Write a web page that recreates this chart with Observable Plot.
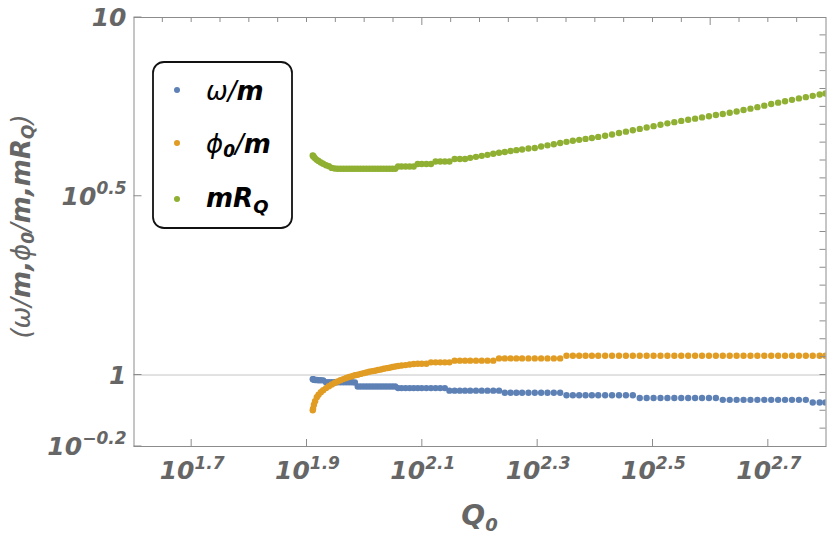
<!DOCTYPE html>
<html><head><meta charset="utf-8">
<script src="https://cdn.jsdelivr.net/npm/d3@7"></script>
<script src="https://cdn.jsdelivr.net/npm/@observablehq/plot@0.6"></script>
<style>
body{margin:0;background:#fff;}
#wrap{width:830px;height:538px;}
</style></head><body><div id="wrap"></div>
<script>
// ---- data ----
const log10Q0 = [
  1.910, 1.9105, 1.912, 1.914, 1.917, 1.920, 1.924, 1.928, 1.933, 1.938,
  1.943, 1.948, 1.953, 1.958, 1.963, 1.968, 1.973, 1.978, 1.983, 1.988, 1.993, 1.998,
  2.003, 2.008, 2.013, 2.018, 2.023, 2.028, 2.033, 2.038, 2.043, 2.048, 2.053, 2.058,
  2.064, 2.071, 2.078, 2.085, 2.092, 2.099, 2.107, 2.115, 2.123, 2.131, 2.139, 2.147, 2.156, 2.165, 2.174,
  2.183, 2.193, 2.203, 2.213, 2.223, 2.233, 2.243, 2.253, 2.263, 2.273, 2.284,
  2.295, 2.306, 2.317, 2.328, 2.339, 2.350, 2.361, 2.372, 2.383, 2.394, 2.405,
  2.417, 2.429, 2.441, 2.453, 2.465, 2.477, 2.489, 2.501, 2.513, 2.525, 2.537,
  2.549, 2.561, 2.573, 2.585, 2.597, 2.609, 2.621, 2.633, 2.645, 2.657, 2.669,
  2.681, 2.693, 2.705, 2.717, 2.729, 2.741, 2.753, 2.765, 2.777, 2.789, 2.799
];
const omegaOverM = [
  0.974, 0.973, 0.970, 0.968, 0.968, 0.967, 0.967, 0.966, 0.954, 0.954,
  0.954, 0.954, 0.954, 0.954, 0.954, 0.954, 0.954, 0.954, 0.953,
  0.929, 0.929, 0.929, 0.929, 0.929, 0.929, 0.929, 0.929, 0.929, 0.929, 0.929, 0.929, 0.929, 0.929,
  0.919,
  0.919, 0.919, 0.919, 0.919, 0.919, 0.919, 0.919, 0.919, 0.919, 0.919, 0.919,
  0.904, 0.904, 0.904, 0.904,
  0.904, 0.904, 0.904, 0.904, 0.904, 0.904,
  0.892, 0.892, 0.892, 0.892, 0.892, 0.892, 0.892, 0.892, 0.892, 0.892,
  0.878, 0.878, 0.878, 0.878, 0.878, 0.878,
  0.878, 0.878, 0.878, 0.878, 0.878,
  0.862, 0.862, 0.862, 0.862, 0.862, 0.862, 0.862, 0.862, 0.862, 0.862, 0.862, 0.862,
  0.852, 0.852, 0.852, 0.852, 0.852, 0.852, 0.852, 0.852, 0.852, 0.852, 0.852, 0.852, 0.852,
  0.838, 0.838, 0.838
];
const phi0OverM = [
  0.797, 0.805, 0.826, 0.845, 0.867, 0.881, 0.895, 0.907, 0.919, 0.930,
  0.941, 0.950, 0.959, 0.967, 0.974, 0.981, 0.987, 0.992, 0.998, 1.002, 1.007, 1.012,
  1.016, 1.021, 1.025, 1.028, 1.033, 1.036, 1.041, 1.045, 1.048, 1.053, 1.056, 1.060,
  1.063, 1.066, 1.070, 1.073, 1.075, 1.075, 1.075, 1.085, 1.085, 1.085, 1.085, 1.085, 1.097, 1.097, 1.097,
  1.097, 1.097, 1.097, 1.097, 1.097, 1.113, 1.113, 1.113, 1.113, 1.113, 1.113,
  1.113, 1.113, 1.113, 1.113, 1.113, 1.132, 1.132, 1.132, 1.132, 1.132, 1.132,
  1.132, 1.132, 1.132, 1.132, 1.132, 1.132, 1.132, 1.132, 1.132, 1.132, 1.132,
  1.132, 1.132, 1.132, 1.132, 1.132, 1.132, 1.132, 1.132, 1.132, 1.132, 1.132,
  1.132, 1.132, 1.132, 1.132, 1.132, 1.132, 1.132, 1.132, 1.132, 1.132, 1.132
];
const mRQ = [
  4.111, 4.098, 4.072, 4.037, 3.998, 3.968, 3.930, 3.897, 3.862, 3.835,
  3.796, 3.781, 3.774, 3.774, 3.774, 3.774, 3.774, 3.774, 3.774, 3.774, 3.774, 3.774,
  3.774, 3.774, 3.774, 3.774, 3.774, 3.774, 3.774, 3.774, 3.774, 3.774, 3.774, 3.830,
  3.830, 3.830, 3.830, 3.830, 3.891, 3.891, 3.891, 3.891, 3.955, 3.955, 3.955, 3.955, 4.019, 4.019, 4.019,
  4.050, 4.076, 4.102, 4.129, 4.156, 4.183, 4.205, 4.232, 4.256, 4.275, 4.301,
  4.314, 4.356, 4.389, 4.420, 4.455, 4.489, 4.519, 4.548, 4.575, 4.604, 4.634,
  4.667, 4.709, 4.751, 4.794, 4.838, 4.879, 4.923, 4.967, 5.012, 5.058, 5.097,
  5.137, 5.174, 5.213, 5.254, 5.294, 5.335, 5.373, 5.414, 5.457, 5.510, 5.559,
  5.613, 5.668, 5.728, 5.779, 5.831, 5.884, 5.938, 5.987, 6.037, 6.089, 6.131
];
const seriesNames = ["omega", "phi0", "mRQ"];
const seriesColors = ["#5E81B5", "#E19C24", "#8FB032"];

// ticks (log10 exponents)
const xTickExp = [1.7, 1.9, 2.1, 2.3, 2.5, 2.7];
const xTickSup = ["1.7", "1.9", "2.1", "2.3", "2.5", "2.7"];
const xTopTickExp = [1.65, 1.7, 1.75, 1.8, 1.85, 1.9, 1.95, 2.0, 2.05, 2.1, 2.15, 2.2, 2.25, 2.3, 2.35, 2.4, 2.45, 2.5, 2.55, 2.6, 2.65, 2.7, 2.75];
const xTopLongExp = [2.1, 2.6];
const yTickExp = [-0.2, 0, 0.5, 1];
const yTickBase = ["10", "1", "10", "10"];
const yTickSup = ["\u22120.2", "", "0.5", ""];
const yRightTickExp = [-0.15, -0.1, -0.05, 0, 0.05, 0.1, 0.15, 0.2, 0.25, 0.3, 0.35, 0.4, 0.45, 0.5, 0.55, 0.6, 0.65, 0.7, 0.75, 0.8, 0.85, 0.9, 0.95];

const FRAME = "#8c8c8c";
const TEXT = "#666666";
const FONT = "'DejaVu Sans', sans-serif";

const rows = log10Q0.map((e, i) => ({Q0: 10 ** e, omega: omegaOverM[i], phi0: phi0OverM[i], mRQ: mRQ[i]}));

function decor(index, {x, y}, values, dims) {
  const L = dims.marginLeft, R = dims.width - dims.marginRight;
  const T = dims.marginTop, B = dims.height - dims.marginBottom;
  const g = d3.create("svg:g");
  const tk = g.append("g").attr("stroke", FRAME).attr("stroke-width", 1);
  const line = (x1, y1, x2, y2) => tk.append("line").attr("x1", x1).attr("y1", y1).attr("x2", x2).attr("y2", y2);
  xTickExp.forEach(e => { const p = x(10 ** e); line(p, B, p, B - 7); });
  xTopTickExp.forEach(e => { const p = x(10 ** e); line(p, T, p, T + (xTopLongExp.includes(e) ? 8 : 5)); });
  yTickExp.forEach(e => { const p = y(10 ** e); line(L, p, L + 8, p); });
  yRightTickExp.forEach(e => { const p = y(10 ** e); line(R, p, R - 6, p); });

  const lab = g.append("g").attr("fill", TEXT).attr("font-family", FONT)
    .attr("font-weight", "bold").attr("font-style", "italic").attr("font-size", 25);
  xTickExp.forEach((e, i) => {
    const t = lab.append("text").attr("x", x(10 ** e) + 1).attr("y", B + 33).attr("text-anchor", "middle");
    t.append("tspan").text("10");
    t.append("tspan").attr("dy", -10).attr("font-size", 17).text(xTickSup[i]);
  });
  yTickExp.forEach((e, i) => {
    const t = lab.append("text").attr("x", L - 7).attr("y", y(10 ** e) + 9).attr("text-anchor", "end");
    t.append("tspan").text(yTickBase[i]);
    if (yTickSup[i]) t.append("tspan").attr("dy", -11).attr("font-size", 17).text(yTickSup[i]);
  });
  // x label
  const xl = lab.append("text").attr("x", x(10 ** 2.2)).attr("y", B + 79).attr("text-anchor", "middle").attr("font-size", 28);
  xl.append("tspan").text("Q");
  xl.append("tspan").attr("dy", 6).attr("font-size", 18).text("0");
  // y label
  const yl = lab.append("text").attr("transform", `translate(30,${(T + B) / 2 - 5}) rotate(-90)`)
    .attr("text-anchor", "middle").attr("font-size", 26);
  const w = "normal";
  yl.append("tspan").attr("font-weight", w).text("(");
  yl.append("tspan").attr("font-weight", w).text("\u03C9");
  yl.append("tspan").attr("font-weight", w).text("/");
  yl.append("tspan").text("m");
  yl.append("tspan").text(",");
  yl.append("tspan").attr("font-weight", w).text("\u03D5");
  yl.append("tspan").attr("dy", 4).attr("font-size", 17).text("0");
  yl.append("tspan").attr("dy", -4).attr("font-weight", w).text("/");
  yl.append("tspan").text("m,mR");
  yl.append("tspan").attr("dy", 4).attr("font-size", 17).text("Q");
  yl.append("tspan").attr("dy", -4).attr("font-weight", w).text(")");

  // legend
  const lg = g.append("g");
  lg.append("rect").attr("x", 153).attr("y", 62).attr("width", 139).attr("height", 166).attr("rx", 11)
    .attr("fill", "#fff").attr("stroke", "#111").attr("stroke-width", 1.8);
  const ys = [90, 143, 199];
  seriesNames.forEach((s, i) => {
    lg.append("circle").attr("cx", 177).attr("cy", ys[i]).attr("r", 3).attr("fill", seriesColors[i]);
  });
  const lt = lg.append("g").attr("font-family", FONT).attr("font-style", "italic").attr("font-weight", "bold")
    .attr("font-size", 26).attr("fill", "#000").attr("text-anchor", "start");
  let t = lt.append("text").attr("x", 206).attr("y", ys[0] + 10);
  t.append("tspan").attr("font-weight", "normal").text("\u03C9");
  t.append("tspan").attr("font-weight", "normal").text("/");
  t.append("tspan").text("m");
  t = lt.append("text").attr("x", 206).attr("y", ys[1] + 10);
  t.append("tspan").attr("font-weight", "normal").text("\u03D5");
  t.append("tspan").attr("dy", 4).attr("font-size", 17).text("0");
  t.append("tspan").attr("dy", -4).attr("font-weight", "normal").text("/");
  t.append("tspan").text("m");
  t = lt.append("text").attr("x", 206).attr("y", ys[2] + 8);
  t.append("tspan").text("mR");
  t.append("tspan").attr("dy", 6).attr("font-size", 18).text("Q");
  return g.node();
}

const chart = Plot.plot({
  width: 830, height: 538,
  marginLeft: 133.5, marginRight: 4.5, marginTop: 17, marginBottom: 92,
  x: {type: "log", domain: [10 ** 1.6, 10 ** 2.8], axis: null},
  y: {type: "log", domain: [10 ** -0.2, 10], axis: null},
  marks: [
    Plot.ruleY([1], {stroke: "#c4c4c4", strokeWidth: 1}),
    Plot.dot(rows, {x: "Q0", y: "omega", r: 3.2, fill: seriesColors[0], clip: true}),
    Plot.dot(rows, {x: "Q0", y: "phi0", r: 3.2, fill: seriesColors[1], clip: true}),
    Plot.dot(rows, {x: "Q0", y: "mRQ", r: 3.2, fill: seriesColors[2], clip: true}),
    Plot.frame({stroke: FRAME, strokeWidth: 1}),
    decor
  ]
});
document.getElementById("wrap").appendChild(chart);
</script>
</body></html>
